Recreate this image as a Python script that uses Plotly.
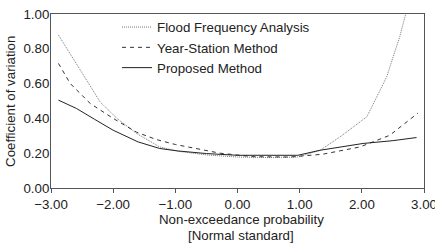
import plotly.graph_objects as go

# Flood Frequency Analysis (dotted)
ffa_x = [-2.88, -2.53, -2.21, -1.94, -1.62, -1.25, -0.95, -0.5, 0.0, 0.5, 0.97, 1.33, 1.65, 2.08, 2.40, 2.61, 2.75]
ffa_y = [0.879, 0.678, 0.495, 0.400, 0.313, 0.236, 0.211, 0.190, 0.178, 0.175, 0.178, 0.217, 0.294, 0.409, 0.639, 0.870, 1.060]

# Year-Station Method (dashed)
ysm_x = [-2.88, -2.69, -2.37, -2.0, -1.62, -1.3, -1.0, -0.5, -0.28, 0.25, 0.84, 1.37, 1.97, 2.45, 2.90]
ysm_y = [0.716, 0.600, 0.486, 0.400, 0.320, 0.278, 0.250, 0.215, 0.200, 0.180, 0.178, 0.194, 0.236, 0.303, 0.430]

# Proposed Method (solid)
pm_x = [-2.88, -2.59, -2.30, -2.00, -1.60, -1.25, -0.96, -0.50, 0.00, 0.50, 0.97, 1.33, 1.70, 2.02, 2.50, 2.88]
pm_y = [0.505, 0.457, 0.395, 0.332, 0.265, 0.227, 0.213, 0.198, 0.188, 0.186, 0.188, 0.217, 0.240, 0.256, 0.272, 0.290]

x_ticks = [-3, -2, -1, 0, 1, 2, 3]
x_ticklabels = ["\u22123.00", "\u22122.00", "\u22121.00", "0.00", "1.00", "2.00", "3.00"]
y_ticks = [0, 0.2, 0.4, 0.6, 0.8, 1.0]
y_ticklabels = ["0.00", "0.20", "0.40", "0.60", "0.80", "1.00"]
x_title_lines = ["Non-exceedance probability", "[Normal standard]"]
y_title = "Coefficient of variation"

fig = go.Figure()
fig.add_trace(go.Scatter(x=ffa_x, y=ffa_y, mode="lines", name="Flood Frequency Analysis",
                         line=dict(color="#777777", width=1, dash="1px,1px")))
fig.add_trace(go.Scatter(x=ysm_x, y=ysm_y, mode="lines", name="Year-Station Method",
                         line=dict(color="#333333", width=1, dash="4px,4px")))
fig.add_trace(go.Scatter(x=pm_x, y=pm_y, mode="lines", name="Proposed Method",
                         line=dict(color="#222222", width=1)))

font = dict(family="Liberation Sans, Arial, sans-serif", size=13.3, color="#222222")
fig.update_layout(
    width=435, height=245,
    margin=dict(l=51, r=11, t=14, b=57),
    paper_bgcolor="white", plot_bgcolor="white",
    font=font,
    showlegend=True,
    legend=dict(x=0.177, y=1.012, xanchor="left", yanchor="top",
                bgcolor="rgba(0,0,0,0)", font=font, tracegroupgap=0,
                itemwidth=30),
    xaxis=dict(range=[-3, 3], tickvals=x_ticks, ticktext=x_ticklabels,
               showgrid=False, zeroline=False, showline=True, linecolor="#555555",
               linewidth=1, mirror=True, ticks="outside", ticklen=4, tickcolor="#555555",
               automargin=False, ticklabeloverflow="allow"),
    yaxis=dict(range=[0, 1], tickvals=y_ticks, ticktext=y_ticklabels,
               showgrid=False, zeroline=False, showline=True, linecolor="#555555",
               linewidth=1, mirror=True, ticks="", automargin=False,
               ticklabeloverflow="allow", ticklabelstandoff=-2),
    annotations=[
        dict(text=x_title_lines[0], xref="paper", yref="paper", x=0.51, y=-0.18,
             xanchor="center", yanchor="middle", showarrow=False, font=font),
        dict(text=x_title_lines[1], xref="paper", yref="paper", x=0.51, y=-0.272,
             xanchor="center", yanchor="middle", showarrow=False, font=font),
        dict(text=y_title, xref="paper", yref="paper", x=-0.11, y=0.5,
             xanchor="center", yanchor="middle", showarrow=False, font=font, textangle=-90),
    ],
)

fig.write_html("out.html", config={"displayModeBar": False},
               post_script="document.body.style.margin='0';document.body.style.overflow='hidden';")
